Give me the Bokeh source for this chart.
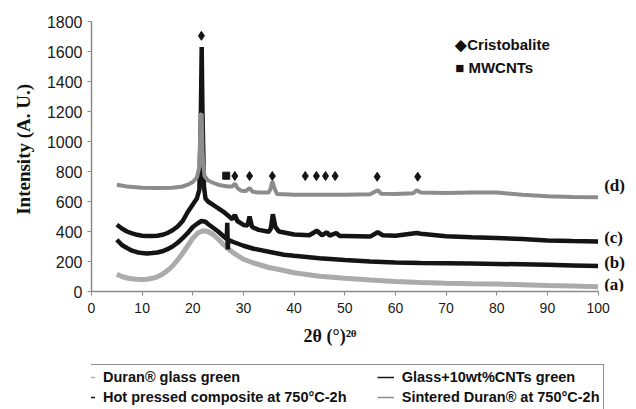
from math import pi
from bokeh.plotting import figure
from bokeh.layouts import column
from bokeh.models import Range1d, FixedTicker, Legend, LegendItem
from bokeh.core.properties import value
from bokeh.embed import file_html
from bokeh.resources import INLINE

# ---------------- data ----------------
a_x = [5, 6, 7, 8, 9, 10, 11, 12, 13, 14, 15, 16, 17, 18, 19, 20, 21, 22, 23, 24, 25, 26, 27, 28, 30, 32, 35, 38, 40, 45, 50, 55, 60, 65, 70, 75, 80, 85, 90, 95, 100]
a_y = [115, 100, 90, 85, 82, 80, 82, 88, 98, 115, 140, 170, 210, 255, 305, 355, 390, 405, 400, 380, 350, 315, 285, 258, 215, 190, 160, 140, 125, 102, 88, 76, 66, 60, 55, 52, 50, 45, 40, 36, 32]

b_x = [5, 6, 7, 8, 9, 10, 11, 12, 13, 14, 15, 16, 17, 18, 19, 20, 21, 21.7, 22.5, 23, 24, 25, 26, 26.7, 26.8, 26.9, 27, 28, 30, 32, 35, 38, 40, 45, 50, 55, 60, 65, 70, 75, 80, 85, 90, 95, 100]
b_y = [345, 310, 290, 272, 262, 256, 254, 256, 260, 268, 282, 300, 325, 356, 390, 430, 455, 470, 465, 450, 425, 400, 370, 350, 458, 280, 345, 330, 305, 285, 265, 245, 238, 222, 210, 200, 193, 190, 188, 186, 184, 181, 178, 174, 170]

c_x = [5, 6, 7, 8, 9, 10, 11, 12, 13, 14, 15, 16, 17, 18, 19, 20, 20.8, 21.3, 21.6, 21.75, 21.9, 22.2, 22.5, 23, 24, 25, 26, 27, 27.8, 28.3, 28.8, 30, 30.8, 31.2, 31.7, 33, 35, 35.4, 35.8, 36.3, 37, 40, 43, 44.5, 45.5, 46.5, 47, 48.3, 49, 50, 55, 56.5, 57.5, 60, 64.2, 65, 70, 75, 80, 85, 90, 95, 100]
c_y = [445, 420, 400, 388, 378, 372, 370, 370, 372, 378, 390, 408, 433, 470, 530, 580, 620, 680, 1200, 1630, 1200, 700, 620, 600, 578, 555, 533, 505, 482, 510, 470, 444, 440, 500, 430, 411, 398, 420, 515, 430, 400, 380, 375, 405, 375, 395, 372, 390, 370, 370, 366, 395, 375, 372, 390, 385, 368, 362, 357, 350, 340, 336, 333]

d_x = [5, 7, 10, 13, 16, 18, 19, 20, 20.8, 21.3, 21.55, 21.75, 21.95, 22.3, 23, 24, 25, 26, 27, 27.8, 28.3, 28.8, 29.5, 30.5, 31.2, 31.8, 33, 35, 35.4, 35.7, 36.1, 36.6, 38, 40, 45, 50, 55, 56.5, 57.2, 60, 63.5, 64.2, 65, 70, 75, 80, 85, 90, 95, 100]
d_y = [712, 700, 692, 690, 692, 700, 712, 730, 760, 830, 1180, 1185, 900, 770, 740, 725, 712, 705, 700, 700, 720, 690, 672, 670, 690, 665, 660, 660, 690, 735, 690, 650, 648, 645, 645, 645, 648, 675, 652, 650, 655, 675, 660, 657, 660, 660, 645, 635, 630, 628]

cristobalite_x = [21.7, 28.3, 31.2, 35.7, 42.2, 44.4, 46.2, 48.1, 56.4, 64.4]
cristobalite_y = [1705, 770, 770, 770, 770, 770, 770, 770, 765, 765]
mwcnt_x = [26.6]
mwcnt_y = [772]

series_names = ["Duran\u00ae glass green", "Glass+10wt%CNTs green",
                "Hot pressed composite at 750\u00b0C-2h", "Sintered Duran\u00ae at 750\u00b0C-2h"]
curve_tags = ["(a)", "(b)", "(c)", "(d)"]
tag_x = [101.2, 101.2, 101.2, 101.2]
tag_y = [45, 195, 362, 705]
key_texts = ["\u25c6Cristobalite", "\u25a0 MWCNTs"]
key_x = [71.8, 71.8]
key_y = [1645, 1493]
y_ticks = [0, 200, 400, 600, 800, 1000, 1200, 1400, 1600, 1800]
x_ticks = [0, 10, 20, 30, 40, 50, 60, 70, 80, 90, 100]

NBSP = "\u00a0"

# ---------------- main figure ----------------
p = figure(width=636, height=358, output_backend="svg", toolbar_location=None,
           x_range=Range1d(0, 106.6), y_range=Range1d(0, 1800),
           min_border_left=91, min_border_right=5, min_border_top=21, min_border_bottom=67)
p.outline_line_color = None
p.xgrid.visible = False
p.ygrid.visible = False
p.background_fill_color = "white"
p.border_fill_color = "white"

for ax in (p.xaxis[0], p.yaxis[0]):
    ax.axis_line_color = "#8a8a8a"
    ax.axis_line_width = 1.5
    ax.major_tick_line_color = "#8a8a8a"
    ax.major_tick_in = 0
    ax.major_tick_out = 4
    ax.minor_tick_line_color = None
    ax.major_label_text_font = "Liberation Sans"
    ax.major_label_text_color = "#1a1a1a"
    ax.axis_label_text_font = "Liberation Serif"
    ax.axis_label_text_font_style = "bold"
    ax.axis_label_text_color = "#111111"

p.xaxis[0].bounds = (0, 100)
p.yaxis[0].ticker = FixedTicker(ticks=y_ticks)
p.xaxis[0].ticker = FixedTicker(ticks=x_ticks)
p.yaxis[0].major_label_text_font_size = "16px"
p.xaxis[0].major_label_text_font_size = "14px"
p.yaxis[0].major_label_standoff = 5
p.xaxis[0].major_label_standoff = 7

p.yaxis[0].axis_label = NBSP * 3 + "Intensity (A. U.)"
p.yaxis[0].axis_label_text_font_size = "19px"
p.yaxis[0].axis_label_standoff = 10
p.xaxis[0].axis_label = "2\u03b8  (\u00b0)\u00b2\u1dbf" + NBSP * 13
p.xaxis[0].axis_label_text_font_size = "18px"
p.xaxis[0].axis_label_standoff = 10

ra = p.line(a_x, a_y, line_color="#ababab", line_width=5)
rb = p.line(b_x, b_y, line_color="#141414", line_width=4.5)
rc = p.line(c_x, c_y, line_color="#141414", line_width=4.5)
rd = p.line(d_x, d_y, line_color="#8c8c8c", line_width=4)

p.scatter(cristobalite_x, cristobalite_y, marker="diamond", size=9, color="#151515")
p.scatter(mwcnt_x, mwcnt_y, marker="square", size=7, color="#151515")

p.text(x=tag_x, y=tag_y, text=curve_tags, text_font=value("Liberation Serif"),
       text_font_style="bold", text_font_size="17px", text_baseline="middle",
       text_align="left", text_color="#111111")
p.text(x=key_x, y=key_y, text=key_texts, text_font=value("Liberation Sans"),
       text_font_style="bold", text_font_size="15px", text_baseline="middle",
       text_align="left", text_color="#111111")

# ---------------- legend strip ----------------
q = figure(width=636, height=51, output_backend="svg", toolbar_location=None,
           x_range=Range1d(0, 1), y_range=Range1d(0, 1),
           x_axis_type=None, y_axis_type=None,
           min_border_left=0, min_border_right=0, min_border_top=0, min_border_bottom=0)
q.outline_line_color = None
q.xgrid.visible = False
q.ygrid.visible = False
# one-point stand-ins (outside the strip's ranges) so the legend can draw thin line keys
la = q.line(a_x[:1], a_y[:1], line_color="#ababab", line_width=1.5)
lb = q.line(b_x[:1], b_y[:1], line_color="#141414", line_width=1.5)
lc = q.line(c_x[:1], c_y[:1], line_color="#141414", line_width=1.5)
ld = q.line(d_x[:1], d_y[:1], line_color="#8c8c8c", line_width=1.5)

legend = Legend(items=[LegendItem(label=series_names[0], renderers=[la]),
                       LegendItem(label=series_names[2] + NBSP * 7, renderers=[lc]),
                       LegendItem(label=series_names[1], renderers=[lb]),
                       LegendItem(label=series_names[3], renderers=[ld])],
                location=(-17, -1), ncols=2,
                border_line_color="#222222", border_line_width=1,
                background_fill_color="white", background_fill_alpha=1,
                label_text_font="Liberation Sans", label_text_font_style="bold",
                label_text_font_size="14.5px", label_text_color="#111111",
                glyph_width=17, glyph_height=14, label_height=18, label_width=0,
                label_standoff=8, spacing=2, padding=3, margin=0)
q.add_layout(legend, "center")

layout = column(p, q, spacing=0)
open("out.html", "w").write(file_html(layout, INLINE))
